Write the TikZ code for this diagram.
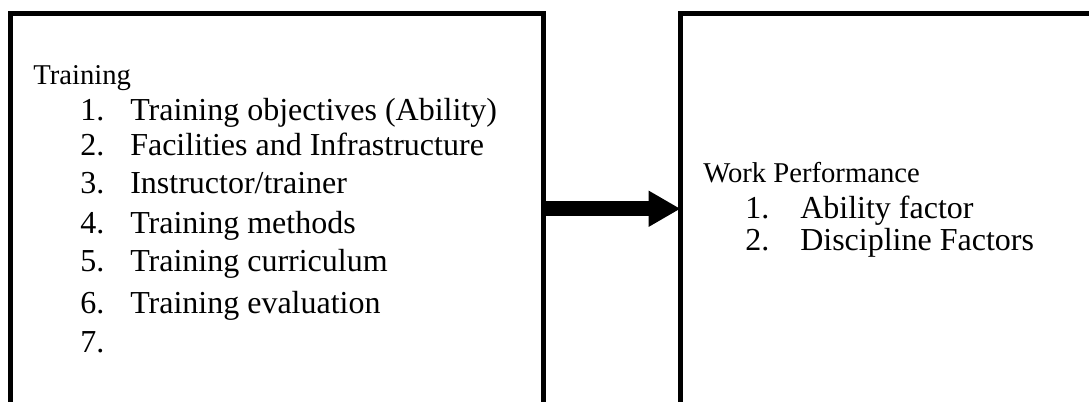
\documentclass[tikz,border=0pt]{standalone}
\usepackage{fontspec}
\setmainfont{Liberation Serif}
\usetikzlibrary{arrows.meta,fit}
\tikzset{
  panel/.style={draw, line width=3.75pt, inner sep=0pt, outer sep=0pt},
  head/.style={anchor=base west, inner sep=0pt, font=\fontsize{21.5}{25}\selectfont},
  entry/.style={anchor=base west, inner sep=0pt, font=\fontsize{24}{28}\selectfont},
  flow/.style={line width=11.25pt, -{Triangle[length=24pt,width=25.5pt]}}
}
\begin{document}
\begin{tikzpicture}[x=0.75pt,y=-0.75pt]
  \useasboundingbox (0,0) rectangle (1089,401);
  \node[panel, fit={(10.5,13.5) (543,404)}] (training) {};
  \node[panel, fit={(680.5,13.5) (1100,404)}] (work) {};
  \draw[flow] (training.east) -- (work.west);
  \node[head] (trhead) at (33,84) {Training};
  \foreach \txt/\ypos [count=\i] in {{Training objectives (Ability)}/120, {Facilities and Infrastructure}/155,
      {Instructor/trainer}/193, {Training methods}/233, {Training curriculum}/271,
      {Training evaluation}/313, {}/352} {
    \node[entry] (trnum\i) at (80,\ypos) {\i.};
    \node[entry] (tritem\i) at (130,\ypos) {\txt};
  }
  \node[head] (wphead) at (703,182) {Work Performance};
  \foreach \txt/\ypos [count=\i] in {{Ability factor}/218, {Discipline Factors}/250} {
    \node[entry] (wpnum\i) at (745,\ypos) {\i.};
    \node[entry] (wpitem\i) at (800,\ypos) {\txt};
  }
\end{tikzpicture}
\end{document}
